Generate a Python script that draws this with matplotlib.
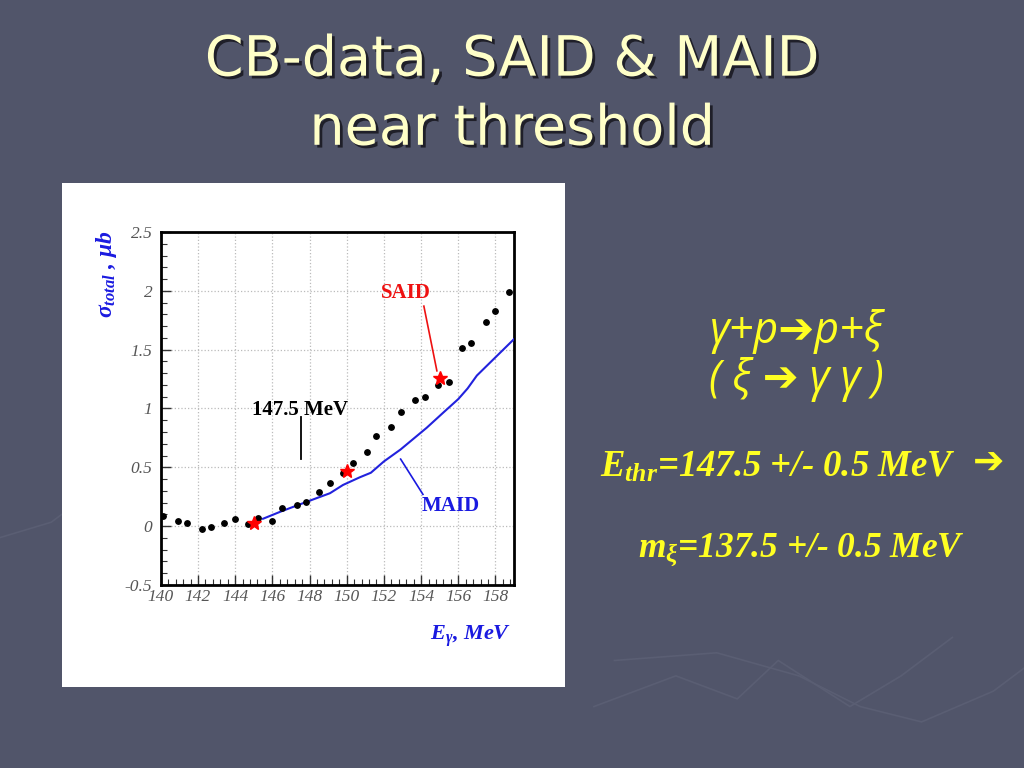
import matplotlib
matplotlib.use("Agg")
import matplotlib.pyplot as plt
import matplotlib.patheffects as pe
from matplotlib.patches import Rectangle
from matplotlib.ticker import MultipleLocator

# ---- data ----
cb_E = [140.1, 140.9, 141.4, 142.2, 142.7, 143.4, 144.0, 144.7, 145.25, 146.0,
        146.5, 147.3, 147.8, 148.5, 149.1, 149.8, 150.35, 151.1, 151.6, 152.4,
        152.9, 153.65, 154.2, 154.9, 155.5, 156.2, 156.7, 157.5, 158.0, 158.75]
cb_sigma = [0.085, 0.042, 0.028, -0.023, -0.006, 0.028, 0.057, 0.02, 0.07, 0.048,
            0.156, 0.18, 0.207, 0.29, 0.37, 0.45, 0.54, 0.63, 0.77, 0.84,
            0.97, 1.075, 1.10, 1.20, 1.225, 1.515, 1.56, 1.735, 1.83, 1.99]

said_E = [145.0, 150.0, 155.0]
said_sigma = [0.03, 0.47, 1.26]

maid_E = [145.5, 146.5, 147.8, 149.1, 149.8, 150.7, 151.3, 152.0, 152.9, 154.3,
          155.2, 156.0, 156.5, 157.0, 158.0, 159.0]
maid_sigma = [0.063, 0.127, 0.204, 0.28, 0.35, 0.415, 0.454, 0.55, 0.652, 0.836,
              0.966, 1.08, 1.17, 1.28, 1.435, 1.59]

x_ticks = [140, 142, 144, 146, 148, 150, 152, 154, 156, 158]
y_ticks = [-0.5, 0, 0.5, 1, 1.5, 2, 2.5]
y_tick_labels = ["-0.5", "0", "0.5", "1", "1.5", "2", "2.5"]

threshold_E = 147.5

# ---- styling ----
bg = "#51556a"
plt.rcParams['mathtext.fontset'] = 'custom'
plt.rcParams['mathtext.it'] = 'Liberation Serif:italic:bold'
plt.rcParams['mathtext.rm'] = 'Liberation Serif:italic:bold'
plt.rcParams['mathtext.bf'] = 'Liberation Serif:italic:bold'

fig = plt.figure(figsize=(10.24, 7.68), dpi=100, facecolor=bg)

# faint background texture lines
tex = dict(color="#5a5e73", lw=1.2, zorder=0)
fig.add_artist(plt.Line2D([0.0, 0.05, 0.06],
                          [0.30, 0.32, 0.33],
                          transform=fig.transFigure, **tex))
fig.add_artist(plt.Line2D([0.6, 0.7, 0.78, 0.84, 0.9, 0.97, 1.0],
                          [0.14, 0.15, 0.12, 0.08, 0.06, 0.10, 0.13],
                          transform=fig.transFigure, **tex))
fig.add_artist(plt.Line2D([0.58, 0.66, 0.72, 0.76, 0.83, 0.88, 0.93],
                          [0.08, 0.12, 0.09, 0.14, 0.08, 0.12, 0.17],
                          transform=fig.transFigure, **tex))

# white panel
fig.add_artist(Rectangle((0.0605, 0.1055), 0.491, 0.656, transform=fig.transFigure,
                         facecolor="white", edgecolor="none", zorder=1))

ax = fig.add_axes([0.157, 0.2383, 0.345, 0.4596])
ax.set_zorder(2)
ax.set_facecolor("white")
ax.set_xlim(140, 159)
ax.set_ylim(-0.5, 2.5)

ax.set_xticks(x_ticks)
ax.set_yticks(y_ticks)
ax.set_yticklabels(y_tick_labels)
ax.xaxis.set_minor_locator(MultipleLocator(0.4))
ax.yaxis.set_minor_locator(MultipleLocator(0.1))
ax.tick_params(which="both", direction="in", top=False, right=False, color="#333333")
ax.tick_params(which="major", length=7, width=1)
ax.tick_params(which="minor", length=4, width=0.8)
for lab in ax.get_xticklabels() + ax.get_yticklabels():
    lab.set_fontfamily("Liberation Serif")
    lab.set_fontstyle("italic")
    lab.set_fontsize(12.5)
    lab.set_color("#555555")
ax.tick_params(axis="x", pad=3)
ax.tick_params(axis="y", pad=6)

ax.grid(True, which="major", color="#bbbbbb", linestyle=":", linewidth=0.9)
for sp in ax.spines.values():
    sp.set_linewidth(2.0)
    sp.set_color("black")

# data
ax.plot(maid_E, maid_sigma, color="#2222dd", lw=1.5, zorder=3)
ax.plot(cb_E, cb_sigma, "o", color="black", ms=3.9, zorder=4)
ax.plot(said_E, said_sigma, "*", color="red", ms=10, zorder=5)

# annotations
bold_serif = dict(fontfamily="Liberation Serif", fontweight="bold", fontsize=15)
ax.text(threshold_E, 0.985, "147.5 MeV", color="black", ha="center", va="center", **bold_serif)
ax.plot([threshold_E + 0.05, threshold_E + 0.05], [0.57, 0.93], color="black", lw=1.3)

ax.text(153.2, 1.98, "SAID", color="#ee1111", ha="center", va="center", **bold_serif)
ax.plot([154.15, 154.85], [1.87, 1.32], color="#ee1111", lw=1.2)

ax.text(155.6, 0.17, "MAID", color="#1a1ae0", ha="center", va="center", **bold_serif)
ax.plot([152.9, 154.1], [0.57, 0.27], color="#1a1ae0", lw=1.2)

# axis titles
fig.text(0.104, 0.643, r"$\sigma_{total}$ , $\mu b$", rotation=90, color="#1a1ae0",
         ha="center", va="center", fontsize=17, fontfamily="Liberation Serif",
         fontweight="bold", fontstyle="italic")
fig.text(0.499, 0.172, r"E$_\gamma$, MeV", color="#1a1ae0", ha="right", va="center",
         fontsize=16, fontfamily="Liberation Serif", fontweight="bold", fontstyle="italic")

# slide title
shadow = [pe.withSimplePatchShadow(offset=(2, -2), shadow_rgbFace="#1a1a22", alpha=0.9)]
fig.text(0.5, 0.921, "CB-data, SAID & MAID", color="#ffffc8", ha="center", va="center",
         fontsize=40, fontfamily="DejaVu Sans", path_effects=shadow)
fig.text(0.5, 0.831, "near threshold", color="#ffffc8", ha="center", va="center",
         fontsize=40, fontfamily="DejaVu Sans", path_effects=shadow)

# right-hand text
yellow = "#ffff22"
fig.text(0.778, 0.568, "γ+p➔p+ξ", color=yellow, ha="center", va="center",
         fontsize=31, fontfamily=["Open Sans", "DejaVu Sans"], fontstyle="italic")
fig.text(0.778, 0.506, "( ξ ➔ γ γ )", color=yellow, ha="center", va="center",
         fontsize=31, fontfamily=["Open Sans", "DejaVu Sans"], fontstyle="italic")
fig.text(0.586, 0.392, r"$E_{thr}$=147.5 +/- 0.5 MeV", color=yellow, ha="left",
         va="center", fontsize=26.5, fontfamily="Liberation Serif",
         fontweight="bold", fontstyle="italic")
fig.text(0.981, 0.396, "➔", color=yellow, ha="right", va="center",
         fontsize=27, fontfamily="DejaVu Sans", fontweight="bold")
fig.text(0.783, 0.284, r"$m_{\xi}$=137.5 +/- 0.5 MeV", color=yellow, ha="center",
         va="center", fontsize=25.5, fontfamily="Liberation Serif",
         fontweight="bold", fontstyle="italic")

fig.savefig("out.png", dpi=100, facecolor=bg)
